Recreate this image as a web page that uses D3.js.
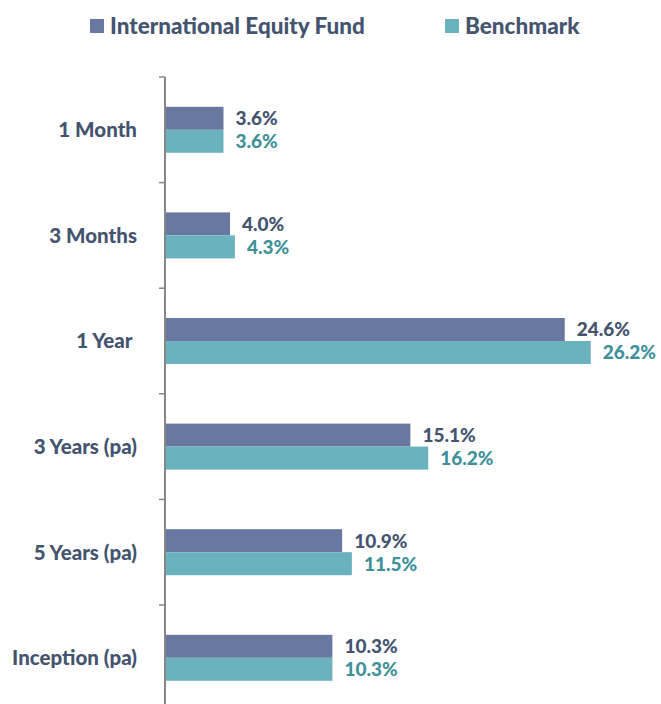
<!doctype html>
<html>
<head>
<meta charset="utf-8">
<script src="https://cdn.jsdelivr.net/npm/d3@7"></script>
<style>
  html, body { margin: 0; padding: 0; background: #fff; }
  svg { display: block; }
</style>
</head>
<body>
<script>
// --- data ---
const categories = ["1 Month", "3 Months", "1 Year ", "3 Years (pa)", "5 Years (pa)", "Inception (pa)"];
const fundValues = [3.6, 4.0, 24.6, 15.1, 10.9, 10.3];
const benchValues = [3.6, 4.3, 26.2, 16.2, 11.5, 10.3];
const seriesNames = ["International Equity Fund", "Benchmark"];

const width = 661;
const height = 704;
const FONT = "Lato, 'Open Sans', 'DejaVu Sans', sans-serif";
const FUND_FILL = "#6878a0";
const BENCH_FILL = "#6ab2bd";
const FUND_TEXT = "#44546f";
const BENCH_TEXT = "#3e9199";
const AXIS = "#878787";

const axisX = 165;
const bandTop = 77;
const bandStep = 105.6;
const barH = 23;

const x = d3.scaleLinear().domain([0, 30]).range([axisX, axisX + 30 * 16.25]);
const y = d3.scaleBand()
  .domain(categories)
  .range([bandTop, bandTop + bandStep * categories.length])
  .padding(0);

const svg = d3.select("body").append("svg")
  .attr("width", width)
  .attr("height", height)
  .attr("viewBox", `0 0 ${width} ${height}`)
  .style("font-family", FONT)
  .style("font-weight", 900);

svg.append("rect").attr("width", width).attr("height", height).attr("fill", "white");

// Legend
const legend = [
  { name: seriesNames[0], fill: FUND_FILL, x: 90 },
  { name: seriesNames[1], fill: BENCH_FILL, x: 445 },
];
const lg = svg.append("g").selectAll("g").data(legend).join("g")
  .attr("transform", (d) => `translate(${d.x},19)`);
lg.append("rect").attr("width", 14).attr("height", 14).attr("fill", (d) => d.fill);
lg.append("text")
  .attr("x", 20)
  .attr("y", 7)
  .attr("dy", "0.36em")
  .attr("font-size", 22.5)
  .attr("fill", FUND_TEXT)
  .text((d) => d.name);

// Bars
const rows = categories.map((c, i) => ({ cat: c, fund: fundValues[i], bench: benchValues[i] }));
const groups = svg.append("g").selectAll("g").data(rows).join("g");
const mid = (d) => y(d.cat) + y.bandwidth() / 2;

groups.append("rect")
  .attr("x", x(0))
  .attr("y", (d) => mid(d) - barH)
  .attr("width", (d) => x(d.fund) - x(0))
  .attr("height", barH)
  .attr("fill", FUND_FILL);

groups.append("rect")
  .attr("x", x(0))
  .attr("y", (d) => mid(d))
  .attr("width", (d) => x(d.bench) - x(0))
  .attr("height", barH)
  .attr("fill", BENCH_FILL);

// Value labels
const gap = 12;
groups.append("text")
  .attr("x", (d) => x(d.fund) + gap)
  .attr("y", (d) => mid(d) - barH / 2)
  .attr("dy", "0.36em")
  .attr("font-size", 19)
  .attr("fill", FUND_TEXT)
  .text((d) => `${d.fund.toFixed(1)}%`);

groups.append("text")
  .attr("x", (d) => x(d.bench) + gap)
  .attr("y", (d) => mid(d) + barH / 2)
  .attr("dy", "0.36em")
  .attr("font-size", 19)
  .attr("fill", BENCH_TEXT)
  .text((d) => `${d.bench.toFixed(1)}%`);

// Y axis: line, ticks at band boundaries, labels
const ax = svg.append("g");
ax.append("line")
  .attr("x1", axisX).attr("x2", axisX)
  .attr("y1", bandTop).attr("y2", height)
  .attr("stroke", AXIS).attr("stroke-width", 2);
ax.selectAll("line.tick").data(categories).join("line")
  .attr("class", "tick")
  .attr("x1", axisX - 6).attr("x2", axisX)
  .attr("y1", (d) => y(d)).attr("y2", (d) => y(d))
  .attr("stroke", AXIS).attr("stroke-width", 1.5);
ax.selectAll("text").data(categories).join("text")
  .attr("x", 137)
  .attr("y", (d) => y(d) + y.bandwidth() / 2)
  .attr("dy", "0.36em")
  .attr("text-anchor", "end")
  .attr("font-size", 20.5)
  .attr("fill", FUND_TEXT)
  .style("white-space", "pre")
  .text((d) => d);
</script>
</body>
</html>
